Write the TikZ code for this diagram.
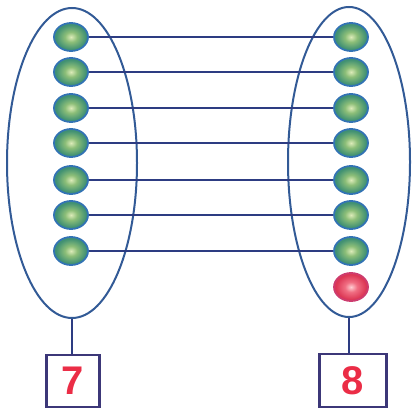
\documentclass[tikz,border=0pt]{standalone}
\usepackage{fontspec}
\setmainfont{Liberation Sans}
\usetikzlibrary{shapes.geometric}
\definecolor{lineblue}{RGB}{45,60,130}
\definecolor{ringblue}{RGB}{50,90,150}
\definecolor{boxblue}{RGB}{60,55,120}
\definecolor{numred}{RGB}{235,45,70}
\definecolor{gin}{RGB}{220,235,185}
\definecolor{gmid}{RGB}{140,190,120}
\definecolor{gout}{RGB}{65,145,115}
\definecolor{gedge}{RGB}{50,115,180}
\definecolor{rin}{RGB}{255,205,210}
\definecolor{rmid}{RGB}{240,110,130}
\definecolor{rout}{RGB}{220,55,85}
\definecolor{redge}{RGB}{205,60,110}
\pgfdeclareradialshading{greenball}{\pgfpoint{0bp}{0bp}}{color(0bp)=(gin); color(9bp)=(gmid); color(22bp)=(gout); color(25bp)=(gout); color(50bp)=(gout)}
\pgfdeclareradialshading{redball}{\pgfpoint{0bp}{0bp}}{color(0bp)=(rin); color(9bp)=(rmid); color(22bp)=(rout); color(25bp)=(rout); color(50bp)=(rout)}
\tikzset{
  grp/.style={ellipse, draw=ringblue, line width=2pt, inner sep=0pt},
  gball/.style={ellipse, draw=gedge, line width=1.8pt, minimum width=34pt, minimum height=28pt, inner sep=0pt, shading=greenball},
  rball/.style={ellipse, draw=redge, line width=1.8pt, minimum width=34pt, minimum height=28pt, inner sep=0pt, shading=redball},
  link/.style={draw=lineblue, line width=2.2pt},
  numbox/.style={draw=boxblue, line width=2.4pt, fill=white, inner sep=0pt, text=numred, font=\bfseries\fontsize{40}{40}\selectfont},
}
\begin{document}
\begin{tikzpicture}[x=1pt,y=-1pt]
\useasboundingbox (0,0) rectangle (414,409);
\node[grp, minimum width=130pt, minimum height=310pt] (L) at (72,163) {};
\node[grp, minimum width=122pt, minimum height=310pt] (R) at (349,162) {};
\foreach \i/\y in {1/37,2/72,3/108,4/143,5/180,6/215,7/251}{
  \node[gball] (l\i) at (71,\y) {};
  \node[gball] (r\i) at (351,\y) {};
}
\node[rball] (r8) at (351,287) {};
\foreach \i in {1,...,7}{
  \draw[link] (l\i.east) -- (r\i.west);
}
\node[numbox, minimum width=53pt, minimum height=52pt] (b7) at (73,381) {7};
\node[numbox, minimum width=67pt, minimum height=53pt] (b8) at (353,380.5) {8};
\draw[link] (L.south) -- (L.south |- b7.north);
\draw[link] (R.south) -- (R.south |- b8.north);
\end{tikzpicture}
\end{document}
